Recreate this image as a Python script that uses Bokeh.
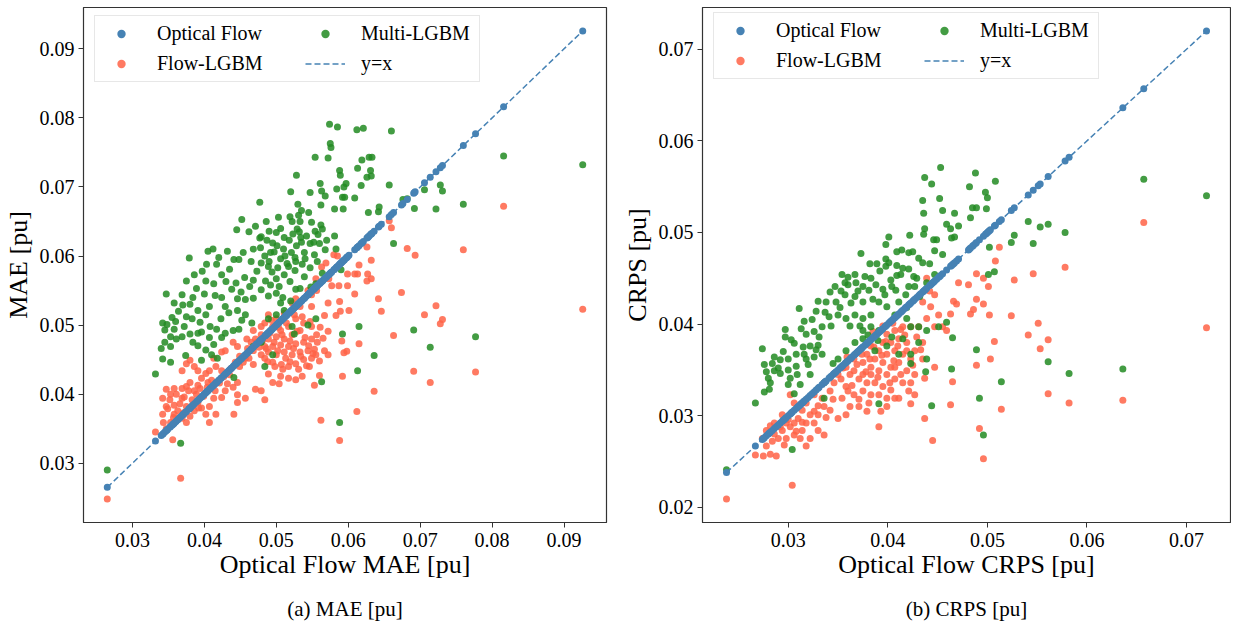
from bokeh.plotting import figure
from bokeh.models import (Legend, LegendItem, LinearAxis, FixedTicker, SingleIntervalTicker,
                          NumeralTickFormatter)
from bokeh.layouts import row
from bokeh.embed import file_html
from bokeh.resources import INLINE

# ---------------- data ----------------
# panel (a) MAE: (optical flow MAE, model MAE)
mae_multi = [
    (0.0574, 0.0791), (0.0585, 0.0787), (0.0612, 0.0783), (0.0621, 0.0785), (0.0660, 0.0781),
    (0.0575, 0.0763), (0.0576, 0.0757), (0.0554, 0.0743), (0.0572, 0.0742), (0.0629, 0.0743),
    (0.0633, 0.0743), (0.0619, 0.0739), (0.0528, 0.0717), (0.0588, 0.0724), (0.0589, 0.0717),
    (0.0613, 0.0727), (0.0631, 0.0724), (0.0632, 0.0716), (0.0626, 0.0714), (0.0561, 0.0705),
    (0.0597, 0.0705), (0.0594, 0.0700), (0.0584, 0.0697), (0.0618, 0.0702), (0.0657, 0.0703),
    (0.0520, 0.0693), (0.0547, 0.0692), (0.0563, 0.0694), (0.0568, 0.0687), (0.0592, 0.0685),
    (0.0595, 0.0685), (0.0609, 0.0684), (0.0477, 0.0678), (0.0530, 0.0675), (0.0562, 0.0674),
    (0.0581, 0.0668), (0.0593, 0.0668), (0.0642, 0.0664), (0.0628, 0.0663), (0.0643, 0.0671),
    (0.0706, 0.0696), (0.0728, 0.0703), (0.0731, 0.0694), (0.0722, 0.0668), (0.0692, 0.0669),
    (0.0676, 0.0682), (0.0682, 0.0683), (0.0760, 0.0675), (0.0816, 0.0745), (0.0926, 0.0732),
    (0.0663, 0.0618), (0.0691, 0.0493), (0.0714, 0.0468), (0.0777, 0.0483), (0.0636, 0.0456),
    (0.0615, 0.0498), (0.0613, 0.0434), (0.0588, 0.0359), (0.0563, 0.0418), (0.0592, 0.0487),
    (0.0590, 0.0580), (0.0367, 0.0329), (0.0265, 0.0290), (0.0332, 0.0429),
    (0.0452, 0.0653), (0.0503, 0.0656), (0.0519, 0.0657), (0.0486, 0.0650), (0.0522, 0.0650),
    (0.0531, 0.0659), (0.0533, 0.0650), (0.0535, 0.0666), (0.0545, 0.0663), (0.0549, 0.0649),
    (0.0554, 0.0636), (0.0562, 0.0645), (0.0564, 0.0639), (0.0445, 0.0638), (0.0462, 0.0635),
    (0.0471, 0.0643), (0.0479, 0.0628), (0.0477, 0.0626), (0.0487, 0.0623), (0.0495, 0.0619),
    (0.0500, 0.0634), (0.0511, 0.0627), (0.0518, 0.0623), (0.0523, 0.0632), (0.0529, 0.0639),
    (0.0534, 0.0627), (0.0535, 0.0620), (0.0542, 0.0629), (0.0552, 0.0620), (0.0560, 0.0618),
    (0.0570, 0.0623), (0.0581, 0.0629), (0.0583, 0.0610), (0.0568, 0.0609), (0.0539, 0.0605),
    (0.0553, 0.0602), (0.0526, 0.0598), (0.0512, 0.0600), (0.0510, 0.0610), (0.0501, 0.0615),
    (0.0492, 0.0605), (0.0468, 0.0610), (0.0454, 0.0605), (0.0405, 0.0607), (0.0412, 0.0610),
    (0.0432, 0.0607), (0.0420, 0.0598), (0.0379, 0.0597), (0.0403, 0.0588), (0.0417, 0.0588),
    (0.0441, 0.0595), (0.0448, 0.0595), (0.0465, 0.0592), (0.0479, 0.0590), (0.0489, 0.0585),
    (0.0502, 0.0583), (0.0517, 0.0585), (0.0527, 0.0592), (0.0536, 0.0588), (0.0526, 0.0579),
    (0.0511, 0.0573), (0.0500, 0.0567), (0.0492, 0.0558), (0.0485, 0.0564), (0.0468, 0.0565),
    (0.0456, 0.0569), (0.0444, 0.0561), (0.0435, 0.0581), (0.0424, 0.0573), (0.0413, 0.0560),
    (0.0402, 0.0564), (0.0386, 0.0573), (0.0375, 0.0564), (0.0389, 0.0553), (0.0400, 0.0545),
    (0.0415, 0.0543), (0.0424, 0.0540), (0.0446, 0.0538), (0.0457, 0.0537), (0.0468, 0.0539),
    (0.0479, 0.0551), (0.0489, 0.0542), (0.0500, 0.0546), (0.0509, 0.0540), (0.0520, 0.0535),
    (0.0533, 0.0553), (0.0544, 0.0544), (0.0555, 0.0560), (0.0564, 0.0575), (0.0347, 0.0545),
    (0.0369, 0.0544), (0.0358, 0.0532), (0.0370, 0.0529), (0.0380, 0.0530), (0.0391, 0.0521),
    (0.0402, 0.0515), (0.0375, 0.0512), (0.0383, 0.0509), (0.0360, 0.0505), (0.0342, 0.0503),
    (0.0348, 0.0501), (0.0358, 0.0494), (0.0345, 0.0493), (0.0353, 0.0483), (0.0369, 0.0483),
    (0.0380, 0.0487), (0.0391, 0.0488), (0.0396, 0.0490), (0.0407, 0.0482), (0.0417, 0.0494),
    (0.0429, 0.0488), (0.0440, 0.0492), (0.0448, 0.0494), (0.0457, 0.0515), (0.0466, 0.0503),
    (0.0345, 0.0475), (0.0353, 0.0469), (0.0374, 0.0456), (0.0391, 0.0470), (0.0402, 0.0464),
    (0.0410, 0.0457), (0.0418, 0.0452), (0.0342, 0.0451), (0.0353, 0.0446), (0.0396, 0.0449),
    (0.0413, 0.0472), (0.0424, 0.0482), (0.0441, 0.0424), (0.0489, 0.0509), (0.0500, 0.0515),
    (0.0511, 0.0521), (0.0522, 0.0498), (0.0525, 0.0487), (0.0544, 0.0500), (0.0555, 0.0509),
    (0.0495, 0.0457), (0.0484, 0.0440), (0.0468, 0.0469), (0.0479, 0.0475), (0.0506, 0.0532),
    (0.0446, 0.0521), (0.0429, 0.0527), (0.0407, 0.0527),
    (0.0478, 0.0612), (0.0484, 0.0600), (0.0490, 0.0592), (0.0497, 0.0606), (0.0506, 0.0596),
    (0.0515, 0.0589), (0.0521, 0.0605), (0.0528, 0.0615), (0.0540, 0.0596), (0.0547, 0.0583),
    (0.0557, 0.0592), (0.0519, 0.0563), (0.0527, 0.0552), (0.0539, 0.0570), (0.0548, 0.0555),
    (0.0504, 0.0556), (0.0494, 0.0577), (0.0473, 0.0578), (0.0463, 0.0556), (0.0451, 0.0548),
    (0.0438, 0.0552), (0.0430, 0.0563), (0.0397, 0.0578), (0.0384, 0.0540), (0.0364, 0.0520),
    (0.0355, 0.0511), (0.0372, 0.0498), (0.0394, 0.0504), (0.0408, 0.0498), (0.0423, 0.0509),
    (0.0434, 0.0518), (0.0452, 0.0507), (0.0361, 0.0480), (0.0340, 0.0466), (0.0384, 0.0475),
    (0.0532, 0.0635), (0.0547, 0.0618), (0.0558, 0.0631), (0.0506, 0.0640), (0.0490, 0.0636),
]
mae_flow = [
    (0.0816, 0.0672), (0.0926, 0.0523), (0.0760, 0.0609), (0.0682, 0.0611), (0.0693, 0.0601),
    (0.0660, 0.0641), (0.0657, 0.0651), (0.0674, 0.0547), (0.0722, 0.0528), (0.0706, 0.0515),
    (0.0731, 0.0508), (0.0728, 0.0502), (0.0663, 0.0485), (0.0691, 0.0433), (0.0714, 0.0417),
    (0.0777, 0.0432), (0.0636, 0.0404), (0.0612, 0.0375), (0.0562, 0.0362), (0.0588, 0.0333),
    (0.0367, 0.0278), (0.0265, 0.0248), (0.0332, 0.0345), (0.0646, 0.0520), (0.0642, 0.0538),
    (0.0626, 0.0613), (0.0632, 0.0594), (0.0632, 0.0567), (0.0626, 0.0564), (0.0613, 0.0574),
    (0.0609, 0.0545), (0.0599, 0.0557), (0.0585, 0.0600), (0.0601, 0.0521), (0.0589, 0.0520),
    (0.0588, 0.0534), (0.0583, 0.0514), (0.0572, 0.0532), (0.0567, 0.0514), (0.0572, 0.0491),
    (0.0591, 0.0477), (0.0598, 0.0462), (0.0594, 0.0460), (0.0592, 0.0426), (0.0615, 0.0473),
    (0.0553, 0.0413), (0.0560, 0.0427), (0.0546, 0.0440), (0.0555, 0.0457), (0.0567, 0.0463),
    (0.0572, 0.0457),
    (0.0522, 0.0532), (0.0533, 0.0527), (0.0549, 0.0527), (0.0511, 0.0517), (0.0500, 0.0509),
    (0.0489, 0.0515), (0.0484, 0.0503), (0.0495, 0.0498), (0.0506, 0.0492), (0.0517, 0.0498),
    (0.0527, 0.0509), (0.0538, 0.0503), (0.0549, 0.0498), (0.0533, 0.0492), (0.0522, 0.0486),
    (0.0511, 0.0480), (0.0500, 0.0483), (0.0489, 0.0480), (0.0479, 0.0486), (0.0473, 0.0475),
    (0.0484, 0.0469), (0.0495, 0.0469), (0.0506, 0.0471), (0.0517, 0.0469), (0.0527, 0.0473),
    (0.0538, 0.0475), (0.0549, 0.0480), (0.0557, 0.0475), (0.0544, 0.0463), (0.0533, 0.0461),
    (0.0522, 0.0457), (0.0511, 0.0461), (0.0500, 0.0457), (0.0489, 0.0461), (0.0479, 0.0457),
    (0.0484, 0.0452), (0.0495, 0.0446), (0.0507, 0.0443), (0.0517, 0.0440), (0.0527, 0.0444),
    (0.0538, 0.0450), (0.0549, 0.0452), (0.0489, 0.0429), (0.0506, 0.0426), (0.0517, 0.0423),
    (0.0527, 0.0421), (0.0536, 0.0426), (0.0495, 0.0417), (0.0504, 0.0415), (0.0468, 0.0463),
    (0.0462, 0.0452), (0.0468, 0.0443), (0.0457, 0.0452), (0.0449, 0.0440), (0.0479, 0.0405),
    (0.0484, 0.0392), (0.0471, 0.0407), (0.0457, 0.0394), (0.0446, 0.0399), (0.0440, 0.0410),
    (0.0429, 0.0405), (0.0424, 0.0395), (0.0413, 0.0394), (0.0407, 0.0382), (0.0416, 0.0371),
    (0.0407, 0.0359), (0.0441, 0.0371), (0.0446, 0.0417), (0.0435, 0.0428), (0.0424, 0.0434),
    (0.0416, 0.0440), (0.0407, 0.0434), (0.0405, 0.0417), (0.0396, 0.0423), (0.0391, 0.0413),
    (0.0386, 0.0405), (0.0380, 0.0417), (0.0375, 0.0411), (0.0369, 0.0408), (0.0358, 0.0408),
    (0.0347, 0.0407), (0.0353, 0.0400), (0.0342, 0.0394), (0.0347, 0.0382), (0.0358, 0.0384),
    (0.0369, 0.0394), (0.0375, 0.0382), (0.0386, 0.0376), (0.0391, 0.0388), (0.0396, 0.0380),
    (0.0402, 0.0371), (0.0380, 0.0368), (0.0369, 0.0365), (0.0358, 0.0371), (0.0353, 0.0359),
    (0.0342, 0.0371), (0.0343, 0.0359), (0.0347, 0.0350), (0.0356, 0.0334), (0.0375, 0.0359),
    (0.0369, 0.0434), (0.0380, 0.0449), (0.0386, 0.0440), (0.0375, 0.0444), (0.0391, 0.0434),
    (0.0402, 0.0430), (0.0413, 0.0452), (0.0424, 0.0461), (0.0429, 0.0463), (0.0440, 0.0475),
    (0.0446, 0.0469), (0.0459, 0.0480), (0.0468, 0.0492), (0.0479, 0.0498), (0.0446, 0.0388),
    (0.0569, 0.0590), (0.0563, 0.0584), (0.0580, 0.0602), (0.0573, 0.0567), (0.0555, 0.0567),
    (0.0549, 0.0544), (0.0544, 0.0550), (0.0527, 0.0538), (0.0556, 0.0550), (0.0577, 0.0557),
    (0.0587, 0.0557), (0.0599, 0.0574), (0.0609, 0.0574), (0.0615, 0.0587), (0.0627, 0.0574),
    (0.0481, 0.0478), (0.0486, 0.0466), (0.0491, 0.0488), (0.0497, 0.0475), (0.0502, 0.0463),
    (0.0508, 0.0486), (0.0513, 0.0452), (0.0519, 0.0477), (0.0524, 0.0466), (0.0529, 0.0491),
    (0.0534, 0.0455), (0.0540, 0.0482), (0.0545, 0.0470), (0.0551, 0.0459), (0.0514, 0.0503),
    (0.0503, 0.0497), (0.0493, 0.0507), (0.0525, 0.0515), (0.0536, 0.0512), (0.0547, 0.0505),
    (0.0519, 0.0447), (0.0509, 0.0436), (0.0498, 0.0440), (0.0488, 0.0447), (0.0476, 0.0468),
    (0.0471, 0.0480), (0.0531, 0.0436), (0.0542, 0.0441), (0.0556, 0.0486), (0.0561, 0.0497),
    (0.0565, 0.0481), (0.0560, 0.0448), (0.0553, 0.0465),
    (0.0352, 0.0392), (0.0361, 0.0400), (0.0366, 0.0386), (0.0372, 0.0396), (0.0378, 0.0405),
    (0.0383, 0.0392), (0.0389, 0.0400), (0.0394, 0.0408), (0.0399, 0.0397), (0.0404, 0.0410),
    (0.0410, 0.0420), (0.0415, 0.0405), (0.0421, 0.0416), (0.0427, 0.0425), (0.0432, 0.0415),
    (0.0437, 0.0437), (0.0443, 0.0446), (0.0449, 0.0455), (0.0454, 0.0446), (0.0460, 0.0466),
    (0.0465, 0.0475), (0.0357, 0.0366), (0.0363, 0.0376), (0.0349, 0.0379), (0.0371, 0.0373),
    (0.0381, 0.0380), (0.0392, 0.0380),
]

# panel (b) CRPS: (optical flow CRPS, model CRPS)
crps_multi = [
    (0.0720, 0.0540), (0.0657, 0.0558), (0.0636, 0.0351), (0.0582, 0.0346), (0.0578, 0.0500),
    (0.0561, 0.0509), (0.0553, 0.0506), (0.0546, 0.0488), (0.0524, 0.0489), (0.0527, 0.0497),
    (0.0541, 0.0512), (0.0507, 0.0457), (0.0501, 0.0454), (0.0502, 0.0484), (0.0514, 0.0337),
    (0.0492, 0.0319), (0.0496, 0.0279), (0.0489, 0.0372), (0.0561, 0.0359), (0.0508, 0.0556),
    (0.0488, 0.0565), (0.0482, 0.0550), (0.0498, 0.0544), (0.0500, 0.0538), (0.0453, 0.0571),
    (0.0437, 0.0560), (0.0444, 0.0553), (0.0435, 0.0535), (0.0436, 0.0521), (0.0452, 0.0537),
    (0.0455, 0.0524), (0.0459, 0.0509), (0.0463, 0.0504), (0.0471, 0.0507), (0.0467, 0.0521),
    (0.0483, 0.0516), (0.0485, 0.0527), (0.0489, 0.0527), (0.0499, 0.0526), (0.0464, 0.0494),
    (0.0467, 0.0495), (0.0446, 0.0492), (0.0449, 0.0492), (0.0437, 0.0504), (0.0436, 0.0498),
    (0.0422, 0.0497), (0.0401, 0.0495), (0.0398, 0.0487), (0.0421, 0.0478), (0.0414, 0.0481),
    (0.0409, 0.0479), (0.0425, 0.0479), (0.0373, 0.0477), (0.0398, 0.0471), (0.0401, 0.0467),
    (0.0409, 0.0464), (0.0398, 0.0463), (0.0382, 0.0466), (0.0389, 0.0466), (0.0409, 0.0453),
    (0.0413, 0.0454), (0.0421, 0.0460), (0.0431, 0.0472), (0.0435, 0.0467), (0.0442, 0.0466),
    (0.0447, 0.0480), (0.0455, 0.0476), (0.0447, 0.0454), (0.0439, 0.0445), (0.0429, 0.0450),
    (0.0427, 0.0441), (0.0421, 0.0441), (0.0418, 0.0432), (0.0411, 0.0424), (0.0404, 0.0441),
    (0.0395, 0.0438), (0.0388, 0.0443), (0.0383, 0.0450), (0.0381, 0.0437), (0.0375, 0.0441),
    (0.0367, 0.0454), (0.0360, 0.0451), (0.0354, 0.0454), (0.0360, 0.0443), (0.0368, 0.0445),
    (0.0375, 0.0424), (0.0367, 0.0430), (0.0357, 0.0432), (0.0353, 0.0436), (0.0342, 0.0435),
    (0.0338, 0.0424), (0.0330, 0.0425), (0.0328, 0.0414), (0.0348, 0.0424), (0.0350, 0.0410),
    (0.0341, 0.0408), (0.0334, 0.0397), (0.0326, 0.0392), (0.0318, 0.0389), (0.0316, 0.0403),
    (0.0311, 0.0417), (0.0297, 0.0394), (0.0297, 0.0386), (0.0306, 0.0379), (0.0315, 0.0375),
    (0.0322, 0.0376), (0.0330, 0.0377), (0.0326, 0.0364), (0.0334, 0.0367), (0.0318, 0.0362),
    (0.0308, 0.0367), (0.0300, 0.0362), (0.0292, 0.0361), (0.0284, 0.0357), (0.0274, 0.0373),
    (0.0276, 0.0356), (0.0278, 0.0348), (0.0286, 0.0349), (0.0282, 0.0336), (0.0276, 0.0326),
    (0.0281, 0.0329), (0.0267, 0.0314), (0.0292, 0.0346), (0.0300, 0.0350), (0.0308, 0.0354),
    (0.0300, 0.0334), (0.0306, 0.0324), (0.0312, 0.0334), (0.0322, 0.0345), (0.0336, 0.0336),
    (0.0345, 0.0357), (0.0350, 0.0362), (0.0358, 0.0371), (0.0367, 0.0380), (0.0375, 0.0384),
    (0.0362, 0.0398), (0.0358, 0.0406), (0.0367, 0.0410), (0.0375, 0.0406), (0.0383, 0.0410),
    (0.0391, 0.0424), (0.0399, 0.0419), (0.0407, 0.0410), (0.0419, 0.0406), (0.0423, 0.0397),
    (0.0431, 0.0397), (0.0439, 0.0393), (0.0383, 0.0397), (0.0391, 0.0393), (0.0375, 0.0393),
    (0.0387, 0.0371), (0.0399, 0.0376), (0.0411, 0.0367), (0.0415, 0.0384), (0.0423, 0.0367),
    (0.0431, 0.0380), (0.0439, 0.0362), (0.0423, 0.0357), (0.0391, 0.0313), (0.0336, 0.0319),
    (0.0304, 0.0263), (0.0238, 0.0241), (0.0444, 0.0311), (0.0438, 0.0348), (0.0464, 0.0351),
    (0.0465, 0.0385), (0.0459, 0.0402), (0.0451, 0.0397),
    (0.0290, 0.0352), (0.0295, 0.0370), (0.0303, 0.0383), (0.0309, 0.0345), (0.0313, 0.0395),
    (0.0320, 0.0356), (0.0324, 0.0405), (0.0331, 0.0386), (0.0337, 0.0413), (0.0343, 0.0398),
    (0.0347, 0.0441), (0.0352, 0.0418), (0.0357, 0.0445), (0.0363, 0.0423), (0.0370, 0.0436),
    (0.0377, 0.0452), (0.0385, 0.0427), (0.0392, 0.0458), (0.0397, 0.0432), (0.0403, 0.0448),
    (0.0408, 0.0437), (0.0415, 0.0461), (0.0419, 0.0418), (0.0426, 0.0452), (0.0432, 0.0430),
    (0.0286, 0.0364), (0.0280, 0.0341), (0.0302, 0.0341), (0.0316, 0.0367), (0.0328, 0.0372),
    (0.0372, 0.0398), (0.0380, 0.0388), (0.0390, 0.0382), (0.0404, 0.0386),
]
crps_flow = [
    (0.0720, 0.0396), (0.0657, 0.0511), (0.0636, 0.0317), (0.0582, 0.0314), (0.0578, 0.0462),
    (0.0561, 0.0383), (0.0561, 0.0324), (0.0553, 0.0373), (0.0551, 0.0401), (0.0541, 0.0388),
    (0.0546, 0.0455), (0.0527, 0.0448), (0.0524, 0.0409), (0.0512, 0.0484), (0.0508, 0.0469),
    (0.0507, 0.0381), (0.0514, 0.0307), (0.0501, 0.0441), (0.0502, 0.0410), (0.0503, 0.0362),
    (0.0496, 0.0253), (0.0492, 0.0286), (0.0489, 0.0355), (0.0496, 0.0422), (0.0496, 0.0450),
    (0.0489, 0.0455), (0.0481, 0.0443), (0.0483, 0.0411), (0.0486, 0.0416), (0.0489, 0.0427),
    (0.0471, 0.0445), (0.0469, 0.0422), (0.0466, 0.0425), (0.0463, 0.0411), (0.0465, 0.0337),
    (0.0463, 0.0312), (0.0447, 0.0353), (0.0445, 0.0273), (0.0437, 0.0297), (0.0437, 0.0341),
    (0.0391, 0.0288), (0.0304, 0.0224), (0.0238, 0.0209), (0.0336, 0.0279),
    (0.0447, 0.0432), (0.0442, 0.0436), (0.0439, 0.0450), (0.0435, 0.0424), (0.0443, 0.0419),
    (0.0451, 0.0410), (0.0455, 0.0397), (0.0459, 0.0393), (0.0447, 0.0397), (0.0439, 0.0406),
    (0.0435, 0.0380), (0.0431, 0.0397), (0.0423, 0.0397), (0.0415, 0.0397), (0.0407, 0.0393),
    (0.0399, 0.0389), (0.0395, 0.0380), (0.0403, 0.0380), (0.0411, 0.0384), (0.0419, 0.0380),
    (0.0427, 0.0371), (0.0435, 0.0362), (0.0423, 0.0362), (0.0415, 0.0367), (0.0407, 0.0371),
    (0.0399, 0.0367), (0.0391, 0.0371), (0.0383, 0.0376), (0.0379, 0.0367), (0.0387, 0.0362),
    (0.0395, 0.0358), (0.0403, 0.0353), (0.0411, 0.0358), (0.0419, 0.0349), (0.0427, 0.0345),
    (0.0415, 0.0336), (0.0407, 0.0340), (0.0399, 0.0345), (0.0391, 0.0349), (0.0383, 0.0353),
    (0.0375, 0.0358), (0.0366, 0.0362), (0.0358, 0.0353), (0.0350, 0.0345), (0.0362, 0.0345),
    (0.0371, 0.0340), (0.0379, 0.0336), (0.0387, 0.0336), (0.0395, 0.0332), (0.0403, 0.0328),
    (0.0411, 0.0319), (0.0399, 0.0319), (0.0391, 0.0323), (0.0383, 0.0323), (0.0375, 0.0327),
    (0.0366, 0.0323), (0.0358, 0.0332), (0.0354, 0.0319), (0.0362, 0.0310), (0.0371, 0.0310),
    (0.0379, 0.0305), (0.0358, 0.0301), (0.0350, 0.0297), (0.0342, 0.0306), (0.0336, 0.0310),
    (0.0334, 0.0319), (0.0330, 0.0301), (0.0326, 0.0292), (0.0322, 0.0301), (0.0318, 0.0314),
    (0.0314, 0.0306), (0.0310, 0.0297), (0.0306, 0.0292), (0.0302, 0.0288), (0.0298, 0.0292),
    (0.0294, 0.0284), (0.0290, 0.0275), (0.0286, 0.0280), (0.0282, 0.0289), (0.0278, 0.0284),
    (0.0274, 0.0275), (0.0278, 0.0267), (0.0282, 0.0258), (0.0275, 0.0256), (0.0267, 0.0257),
    (0.0288, 0.0256), (0.0298, 0.0275), (0.0306, 0.0279), (0.0314, 0.0284), (0.0318, 0.0292),
    (0.0322, 0.0275), (0.0318, 0.0267), (0.0330, 0.0284), (0.0326, 0.0323), (0.0302, 0.0323),
    (0.0306, 0.0314), (0.0294, 0.0301), (0.0286, 0.0292), (0.0342, 0.0327), (0.0346, 0.0336),
    (0.0366, 0.0349), (0.0375, 0.0345), (0.0383, 0.0345), (0.0423, 0.0336), (0.0407, 0.0319),
    (0.0399, 0.0310), (0.0427, 0.0323), (0.0423, 0.0313), (0.0407, 0.0353), (0.0419, 0.0371),
    (0.0353, 0.0340), (0.0359, 0.0364), (0.0364, 0.0333), (0.0369, 0.0356), (0.0374, 0.0367),
    (0.0378, 0.0348), (0.0382, 0.0362), (0.0386, 0.0375), (0.0390, 0.0342), (0.0394, 0.0366),
    (0.0398, 0.0381), (0.0402, 0.0336), (0.0406, 0.0360), (0.0410, 0.0376), (0.0413, 0.0345),
    (0.0417, 0.0388), (0.0421, 0.0327), (0.0425, 0.0355), (0.0429, 0.0386), (0.0433, 0.0372),
    (0.0371, 0.0318), (0.0381, 0.0314), (0.0393, 0.0305), (0.0360, 0.0327), (0.0345, 0.0318),
    (0.0338, 0.0298), (0.0330, 0.0311), (0.0314, 0.0293), (0.0308, 0.0283), (0.0300, 0.0296),
    (0.0292, 0.0288), (0.0284, 0.0272), (0.0296, 0.0268), (0.0312, 0.0275), (0.0326, 0.0305),
    (0.0385, 0.0392), (0.0395, 0.0398), (0.0405, 0.0401), (0.0413, 0.0394), (0.0355, 0.0352),
]

LEGEND_LABELS = ["Optical Flow", "Flow-LGBM", "Multi-LGBM", "y=x"]
COL_OF = "#4682b4"
COL_FLOW = "#ff6347"
COL_MULTI = "#228b22"
FONT = "Liberation Serif"


def legend_box(items, x, y, label_width, boxed):
    lg = Legend(items=items, location=(x, y), orientation="vertical")
    lg.padding = 6
    lg.spacing = 7
    lg.margin = 0
    lg.glyph_width = 40
    lg.glyph_height = 21
    lg.label_height = 21
    lg.label_standoff = 16
    lg.label_width = label_width
    lg.label_text_font = FONT
    lg.label_text_font_size = "20px"
    lg.label_text_color = "black"
    lg.label_text_baseline = "middle"
    if boxed:
        lg.border_line_color = "#d0d0d0"
        lg.border_line_width = 1
        lg.background_fill_color = "white"
        lg.background_fill_alpha = 0.85
    else:
        lg.border_line_color = None
        lg.background_fill_alpha = 0.0
    return lg


def make_panel(flow, multi, xlabel, ylabel, caption, width, height, bl, br, bt, bb):
    of_vals = sorted(set([p[0] for p in flow] + [p[0] for p in multi]))
    lo, hi = min(of_vals), max(of_vals)
    frame_h = height - bt - bb

    p = figure(width=width, height=height, output_backend="svg", toolbar_location=None,
               min_border_left=bl, min_border_right=br, min_border_top=bt, min_border_bottom=bb)
    p.xgrid.visible = False
    p.ygrid.visible = False
    p.outline_line_color = "#333333"
    p.outline_line_width = 1.2
    p.background_fill_color = "white"

    r_flow = p.scatter([q[0] for q in flow], [q[1] for q in flow], size=7,
                       fill_color=COL_FLOW, fill_alpha=0.85, line_color=None)
    r_multi = p.scatter([q[0] for q in multi], [q[1] for q in multi], size=7,
                        fill_color=COL_MULTI, fill_alpha=0.85, line_color=None)
    r_of = p.scatter(of_vals, of_vals, size=7, fill_color=COL_OF, fill_alpha=1.0, line_color=None)
    r_line = p.line([lo, hi], [lo, hi], line_color=COL_OF, line_width=1.5, line_dash="6 3")

    for ax in (p.xaxis[0], p.yaxis[0]):
        ax.ticker = SingleIntervalTicker(interval=0.01)
        ax.formatter = NumeralTickFormatter(format="0.00")
        ax.minor_tick_line_color = None
        ax.major_tick_in = 0
        ax.major_tick_out = 5
        ax.major_tick_line_color = "#333333"
        ax.axis_line_color = "#333333"
        ax.major_label_text_font = FONT
        ax.major_label_text_font_size = "20px"
        ax.major_label_text_color = "black"
        ax.axis_label_text_font = FONT
        ax.axis_label_text_font_size = "26px"
        ax.axis_label_text_font_style = "normal"
        ax.axis_label_text_color = "black"
    p.xaxis.axis_label = xlabel
    p.yaxis.axis_label = ylabel
    p.xaxis.major_label_standoff = 5
    p.yaxis.major_label_standoff = 4
    p.xaxis.axis_label_standoff = 0
    p.yaxis.axis_label_standoff = 4

    # caption under the x axis label: an extra axis without ticks
    cap_axis = LinearAxis(ticker=FixedTicker(ticks=[]), axis_label=caption)
    cap_axis.axis_line_color = None
    cap_axis.major_tick_line_color = None
    cap_axis.minor_tick_line_color = None
    cap_axis.major_tick_out = 0
    cap_axis.major_label_standoff = 0
    cap_axis.axis_label_standoff = 15
    cap_axis.axis_label_text_font = FONT
    cap_axis.axis_label_text_font_size = "21px"
    cap_axis.axis_label_text_font_style = "normal"
    cap_axis.axis_label_text_color = "black"
    p.add_layout(cap_axis, "below")

    # legend: two columns, the first one carries the frame
    ly = frame_h - 74
    lg1 = legend_box([LegendItem(label=LEGEND_LABELS[0], renderers=[r_of]),
                      LegendItem(label=LEGEND_LABELS[1], renderers=[r_flow])],
                     11, ly - 1, 316, True)
    lg2 = legend_box([LegendItem(label=LEGEND_LABELS[2], renderers=[r_multi]),
                      LegendItem(label=LEGEND_LABELS[3], renderers=[r_line])],
                     222, ly + 6, 100, False)
    p.add_layout(lg1)
    p.add_layout(lg2)
    return p


p1 = make_panel(mae_flow, mae_multi, "Optical Flow MAE [pu]", "MAE [pu]", "(a) MAE [pu]",
                width=608, height=628, bl=75, br=2, bt=7, bb=106)
p2 = make_panel(crps_flow, crps_multi, "Optical Flow CRPS [pu]", "CRPS [pu]", "(b) CRPS [pu]",
                width=623, height=628, bl=94, br=1, bt=7, bb=103)

layout = row(p1, p2, spacing=0)
open("out.html", "w").write(file_html(layout, INLINE))
